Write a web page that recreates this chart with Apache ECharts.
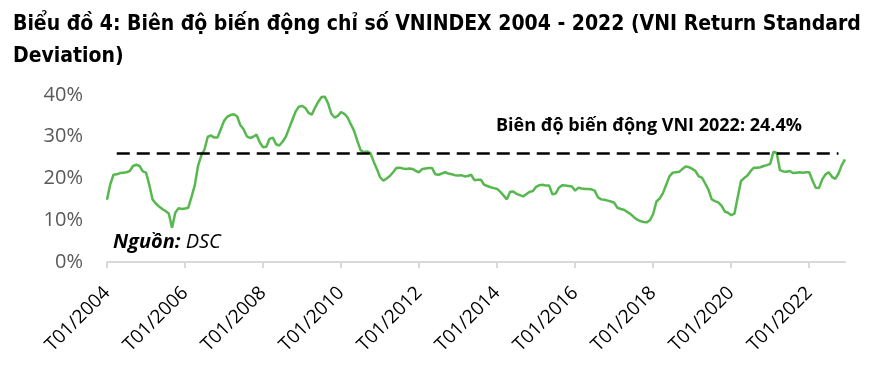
<!DOCTYPE html>
<html>
<head>
<meta charset="utf-8">
<script src="https://cdn.jsdelivr.net/npm/echarts@6/dist/echarts.min.js"></script>
<style>
  html, body { margin: 0; padding: 0; background: #fff; }
  #chart { width: 894px; height: 378px; }
</style>
</head>
<body>
<div id="chart"></div>
<script>
const startYear = 2004;
const endYear = 2022;
const yTicks = [0, 10, 20, 30, 40];
const thresholdValue = 26;

// độ lệch chuẩn lợi nhuận VNI theo tháng (%), mỗi dòng một năm
const volatility = [
  14.9, 18.6, 20.9, 21.0, 21.3, 21.4, 21.5, 21.8, 23.0, 23.3, 23.0, 21.7,
  21.4, 18.5, 15.0, 14.0, 13.3, 12.7, 12.2, 11.6, 8.2, 11.8, 12.9, 12.7,
  12.8, 13.0, 15.6, 18.4, 23.0, 25.5, 27.0, 30.0, 30.3, 29.8, 29.8, 31.8,
  33.8, 34.8, 35.2, 35.4, 34.9, 32.8, 31.8, 30.1, 29.7, 30.0, 30.5, 28.6,
  27.5, 27.6, 29.5, 29.8, 28.2, 27.9, 28.8, 30.0, 32.0, 34.0, 36.0, 37.2,
  37.4, 36.9, 35.7, 35.3, 37.0, 38.4, 39.5, 39.6, 38.0, 35.5, 34.6, 35.0,
  35.9, 35.5, 34.6, 33.0, 31.4, 29.0, 26.8, 26.3, 26.5, 26.1, 24.1, 22.3,
  20.3, 19.5, 20.0, 20.6, 21.5, 22.5, 22.6, 22.4, 22.3, 22.4, 22.3, 21.8,
  21.5, 22.3, 22.4, 22.5, 22.5, 21.0, 20.9, 21.2, 21.5, 21.2, 21.0, 20.8,
  20.7, 20.8, 20.5, 20.6, 20.9, 19.6, 19.7, 19.7, 18.5, 18.2, 17.9, 17.7,
  17.5, 16.8, 15.9, 15.0, 16.8, 16.9, 16.3, 16.0, 15.7, 16.3, 16.8, 17.0,
  18.0, 18.4, 18.5, 18.3, 18.3, 16.2, 16.4, 17.8, 18.4, 18.3, 18.2, 18.1,
  17.1, 17.8, 17.6, 17.5, 17.5, 17.4, 17.1, 15.5, 15.0, 14.9, 14.7, 14.5,
  14.2, 13.0, 12.7, 12.5, 12.0, 11.5, 10.8, 10.2, 9.8, 9.6, 9.5, 10.0,
  11.5, 14.5, 15.2, 16.5, 18.5, 20.5, 21.4, 21.5, 21.6, 22.3, 22.9, 22.7,
  22.3, 21.8, 20.5, 20.2, 18.8, 17.3, 15.0, 14.6, 14.3, 13.5, 12.1, 11.8,
  11.2, 11.6, 15.5, 19.4, 20.1, 20.7, 21.8, 22.6, 22.6, 22.7, 23.0, 23.2,
  23.5, 26.4, 26.1, 22.0, 21.7, 21.6, 21.8, 21.3, 21.4, 21.5, 21.4, 21.5,
  21.5, 19.5, 17.8, 17.7, 19.8, 21.0, 21.5, 20.4, 19.9, 21.2, 23.2, 24.6
];

const months = [];
for (let y = startYear; y <= endYear; y++) {
  for (let m = 1; m <= 12; m++) {
    months.push("T" + String(m).padStart(2, "0") + "/" + y);
  }
}

const chart = echarts.init(document.getElementById("chart"));
chart.setOption({
  animation: false,
  title: {
    text: "Biểu đồ 4: Biên độ biến động chỉ số VNINDEX 2004 - 2022 (VNI Return Standard\nDeviation)",
    left: 8,
    top: 4,
    textStyle: {
      fontFamily: "'Liberation Sans Narrow', 'DejaVu Sans Condensed', sans-serif",
      fontWeight: "bold",
      fontSize: 21,
      lineHeight: 32,
      color: "#000"
    }
  },
  grid: {
    left: 107,
    right: 49,
    top: 95,
    bottom: 116
  },
  xAxis: {
    type: "category",
    boundaryGap: false,
    data: months,
    axisLine: { lineStyle: { color: "#d9d9d9", width: 2 } },
    axisTick: { interval: 23, length: 6, lineStyle: { color: "#d9d9d9", width: 2 } },
    axisLabel: {
      interval: 23,
      rotate: 45,
      margin: 28,
      fontFamily: "'Open Sans', sans-serif",
      fontSize: 19,
      color: "#000"
    },
    splitLine: { show: false }
  },
  yAxis: {
    type: "value",
    min: yTicks[0],
    max: yTicks[yTicks.length - 1],
    interval: 10,
    axisLine: { show: false },
    axisTick: { show: false },
    splitLine: { show: false },
    axisLabel: {
      formatter: "{value}%",
      margin: 24,
      fontFamily: "'Open Sans', sans-serif",
      fontSize: 20,
      color: "#595959"
    }
  },
  series: [
    {
      type: "line",
      data: volatility,
      showSymbol: false,
      lineStyle: { color: "#57b84f", width: 2.5 },
      markLine: {
        silent: true,
        symbol: "none",
        label: { show: false },
        lineStyle: { color: "#000", width: 2.5, type: [13, 7] },
        data: [[
          { coord: [3, thresholdValue] },
          { coord: [225, thresholdValue] }
        ]]
      }
    }
  ],
  graphic: [
    {
      type: "text",
      left: 496,
      top: 117,
      style: {
        text: "Biên độ biến động VNI 2022: 24.4%",
        fontFamily: "'Open Sans', sans-serif",
        fontWeight: "bold",
        fontSize: 18,
        fill: "#000"
      }
    },
    {
      type: "text",
      left: 113,
      top: 232,
      style: {
        text: "{b|Nguồn:}{i| DSC}",
        rich: {
          b: { fontFamily: "'Open Sans', sans-serif", fontWeight: "bold", fontStyle: "italic", fontSize: 20, fill: "#000" },
          i: { fontFamily: "'Open Sans', sans-serif", fontStyle: "italic", fontSize: 20, fill: "#000" }
        }
      }
    }
  ]
});
</script>
</body>
</html>
